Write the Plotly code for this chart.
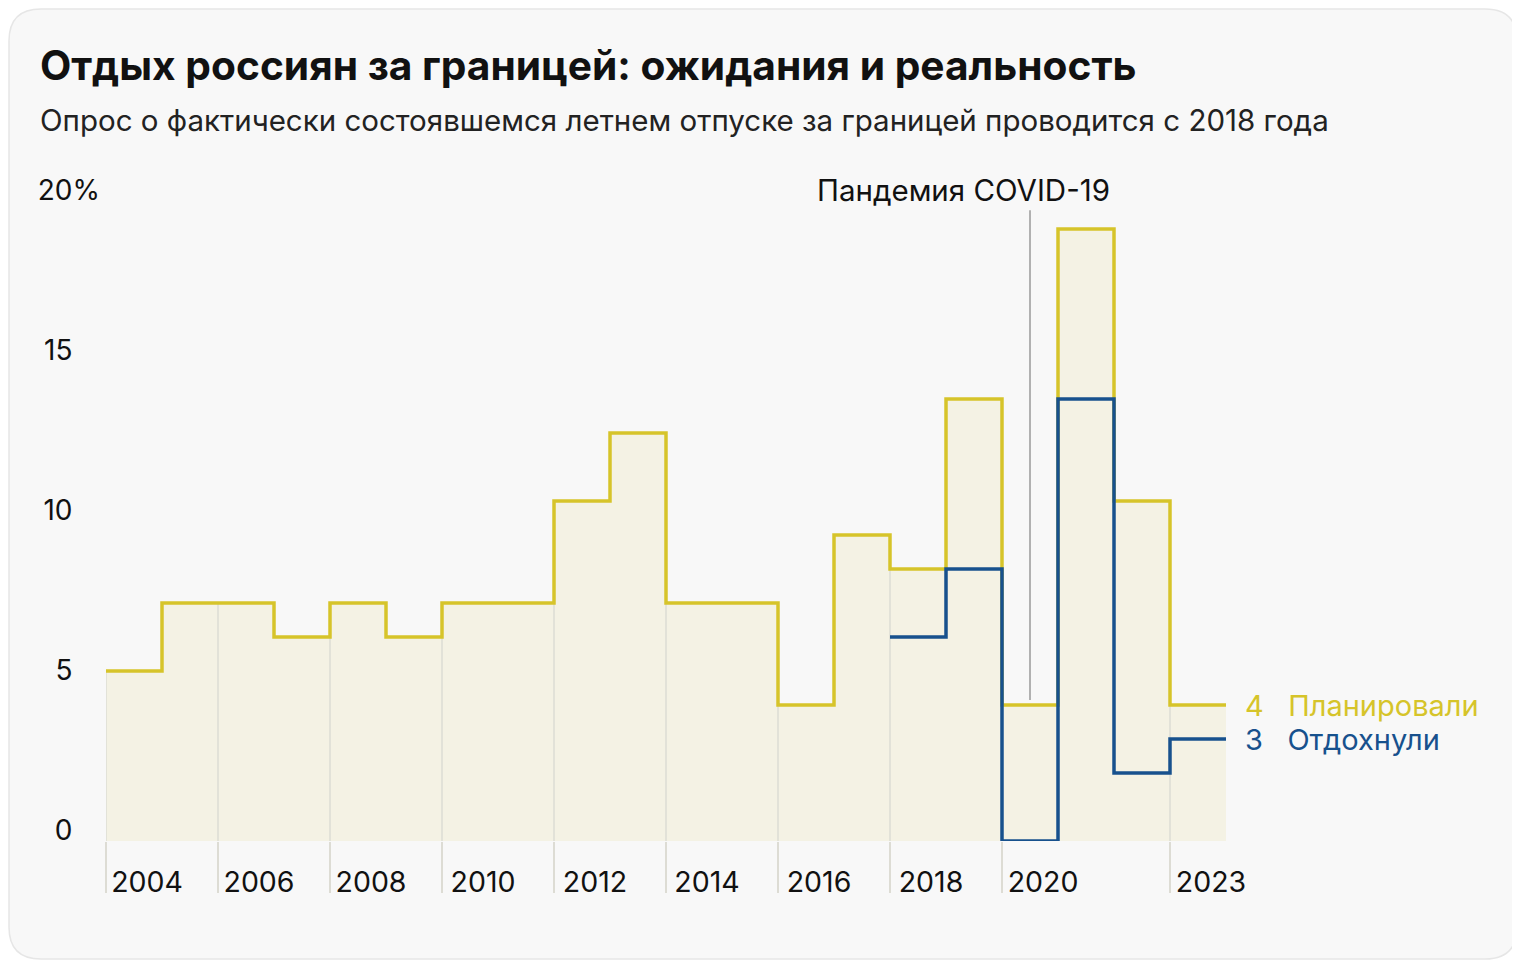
import re
import plotly.graph_objects as go

# data
years = list(range(2004, 2024))
planned = [5, 7, 7, 6, 7, 6, 7, 7, 10, 12, 7, 7, 4, 9, 8, 13, 4, 18, 10, 4]
rested_years = list(range(2018, 2024))
rested = [6, 8, 0, 13, 2, 3]
tick_years = [2004, 2006, 2008, 2010, 2012, 2014, 2016, 2018, 2020, 2023]
y_ticks = [0, 5, 10, 15, 20]
covid_year = 2020

TITLE = "Отдых россиян за границей: ожидания и реальность"
SUBTITLE = "Опрос о фактически состоявшемся летнем отпуске за границей проводится с 2018 года"

YELLOW = "#D6C42A"
BLUE = "#17518D"
FILL = "#F4F2E4"
GRID = "#DDDCD4"
BG = "#F8F8F8"
FONT = "Inter"

# page body adds an 8px offset, so the figure is laid out 8px up/left
OFF = 8
W, H = 1520 - OFF, 962 - OFF
ML, MR, MT, MB = 106 - OFF, 294, 150 - OFF, 121

xp = years + [years[-1] + 1]
yp = planned + [planned[-1]]
xr = rested_years + [rested_years[-1] + 1]
yr = rested + [rested[-1]]

fig = go.Figure()

fig.add_trace(go.Scatter(x=xp, y=yp, mode="lines", line=dict(width=0, shape="hv"),
                         fill="tozeroy", fillcolor=FILL, hoverinfo="skip"))

# light vertical grid lines, only under the planned curve
gx, gy = [], []
for t in tick_years:
    gx += [t, t, None]
    gy += [0, planned[years.index(t)], None]
fig.add_trace(go.Scatter(x=gx, y=gy, mode="lines", line=dict(color=GRID, width=1.5),
                         hoverinfo="skip"))

ci = years.index(covid_year)
fig.add_trace(go.Scatter(x=[covid_year + 0.5] * 2, y=[planned[ci] + 0.15, planned[ci + 1] + 0.55],
                         mode="lines", line=dict(color="#9A9A9A", width=1.5), hoverinfo="skip"))

fig.add_trace(go.Scatter(x=xp, y=yp, mode="lines", line=dict(color=YELLOW, width=3.5, shape="hv"),
                         name="Планировали"))
fig.add_trace(go.Scatter(x=xr, y=yr, mode="lines", line=dict(color=BLUE, width=3.5, shape="hv"),
                         name="Отдохнули"))

# invisible trace so the label axis gets drawn
fig.add_trace(go.Scatter(x=[years[0]], y=[0], yaxis="y2", mode="markers",
                         marker=dict(opacity=0), hoverinfo="skip"))

pw = W - ML - MR
ph = H - MT - MB
px_per_unit = 34
ytop = ph / px_per_unit

# label axis: slightly different spacing than the data axis, as in the original
lab_unit = 32
lab_zero_off = 11
fig.update_layout(
    yaxis2=dict(overlaying="y", side="left", range=[-lab_zero_off / lab_unit, (ph - lab_zero_off) / lab_unit],
                tickvals=y_ticks,
                ticktext=[f"{v}%" if v == y_ticks[-1] else f"{v}<span style='color:rgba(0,0,0,0)'>%</span>"
                          for v in y_ticks],
                showgrid=False, zeroline=False, showline=False, ticks="",
                ticklabelstandoff=5, tickfont=dict(size=28, color="#111", family=FONT)),
)

fig.add_annotation(text="Пандемия COVID-19", x=covid_year + 0.5, y=19.15, xref="x", yref="y",
                   xanchor="right", yanchor="middle", xshift=82, showarrow=False,
                   font=dict(size=29.5, color="#111", family=FONT))

fig.add_annotation(text=f"{planned[-1]}&nbsp;&nbsp;&nbsp;Планировали", x=xp[-1], y=planned[-1],
                   xref="x", yref="y", xanchor="left", yanchor="middle", xshift=17, showarrow=False,
                   font=dict(size=29, color=YELLOW, family=FONT))
fig.add_annotation(text=f"{rested[-1]}&nbsp;&nbsp;&nbsp;Отдохнули", x=xr[-1], y=rested[-1],
                   xref="x", yref="y", xanchor="left", yanchor="middle", xshift=17, showarrow=False,
                   font=dict(size=29, color=BLUE, family=FONT))

fig.add_annotation(text=f"<b>{TITLE}</b>", x=(38 - OFF - ML) / pw, y=1 + (MT - (65 - OFF)) / ph,
                   xref="paper", yref="paper", xanchor="left", yanchor="middle", showarrow=False,
                   font=dict(size=40.7, color="#111", family=FONT))
fig.add_annotation(text=SUBTITLE, x=(38 - OFF - ML) / pw, y=1 + (MT - (120 - OFF)) / ph,
                   xref="paper", yref="paper", xanchor="left", yanchor="middle", showarrow=False,
                   font=dict(size=29.5, color="#222", family=FONT))


# rounded card background, given in pixels and converted to paper coords
def px2paper(px, py):
    return (px - ML) / pw, 1 - (py - MT) / ph


r = 32
x0, y0, x1, y1 = 1, 1, W - 3, H - 3
path = (f"M{x0 + r},{y0} L{x1 - r},{y0} Q{x1},{y0} {x1},{y0 + r} L{x1},{y1 - r} Q{x1},{y1} {x1 - r},{y1} "
        f"L{x0 + r},{y1} Q{x0},{y1} {x0},{y1 - r} L{x0},{y0 + r} Q{x0},{y0} {x0 + r},{y0} Z")
out = []
for tok in re.findall(r"[MLQZ]|-?\d+\.?\d*,-?\d+\.?\d*", path):
    if "," in tok:
        a, b = map(float, tok.split(","))
        u, v = px2paper(a, b)
        out.append(f"{u:.5f},{v:.5f}")
    else:
        out.append(tok)
fig.add_shape(type="path", path=" ".join(out), xref="paper", yref="paper",
              fillcolor=BG, line=dict(color="#E6E6E6", width=1.5), layer="below")

fig.update_layout(
    width=W, height=H,
    margin=dict(l=ML, r=MR, t=MT, b=MB),
    paper_bgcolor="white", plot_bgcolor="rgba(0,0,0,0)",
    showlegend=False,
    font=dict(family=FONT, color="#111"),
    xaxis=dict(range=[years[0], years[-1] + 1], tickvals=tick_years, ticktext=[str(t) for t in tick_years],
               showgrid=False, zeroline=False, showline=False,
               ticks="outside", ticklen=51, tickwidth=1.5, tickcolor=GRID,
               ticklabelshift=41, ticklabelstandoff=-35,
               tickfont=dict(size=28.5, color="#111", family=FONT)),
    yaxis=dict(range=[0, ytop], visible=False),
)

fig.write_html("out.html")
